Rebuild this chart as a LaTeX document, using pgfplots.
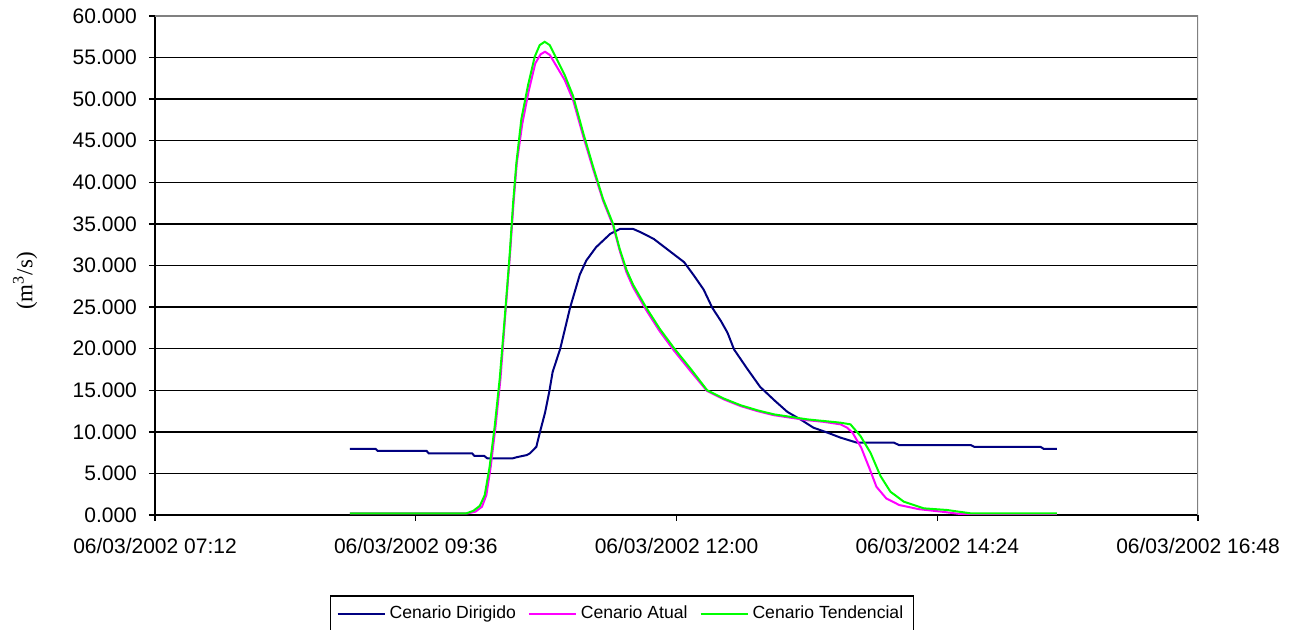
\documentclass[border=0pt]{standalone}
\usepackage{fontspec}
\setmainfont{Liberation Sans}
\newfontfamily\seriffont{Liberation Serif}
\usepackage{pgfplots}
\pgfplotsset{compat=1.18}
\definecolor{cdir}{RGB}{0,0,128}
\definecolor{catu}{RGB}{255,0,255}
\definecolor{cten}{RGB}{0,255,0}
\begin{document}
\begin{tikzpicture}
\path[use as bounding box] (0,0) rectangle (649pt,315pt);
\begin{axis}[
  scale only axis, width=521.5pt, height=249.5pt,
  at={(77.5pt,57.5pt)}, anchor=south west,
  xmin=0, xmax=9.6, ymin=0, ymax=60,
  xtick={0,2.4,4.8,7.2,9.6},
  xticklabels={06/03/2002 07:12,06/03/2002 09:36,06/03/2002 12:00,06/03/2002 14:24,06/03/2002 16:48},
  ytick={0,5,10,15,20,25,30,35,40,45,50,55,60},
  yticklabel style={xshift=-2.5pt, /pgf/number format/.cd, fixed, fixed zerofill, precision=3, assume math mode=true},
  tick align=outside, major tick length=3pt,
  axis x line*=bottom, axis y line*=left,
  ymajorgrids, grid style={black, line width=0.7pt},
  axis line style={black, line width=0.7pt},
  tick style={black, line width=0.7pt},
  tick label style={font=\fontsize{10.5}{12}\selectfont},
  xticklabel style={yshift=-5pt},
  ylabel={\seriffont\fontsize{11.5}{13}\selectfont (m\textsuperscript{3}/s)},
  ylabel style={at={(axis description cs:-0.1246,0.469)}, anchor=center},
  legend columns=3,
  legend style={at={(axis description cs:0.4477,-0.198)}, anchor=center,
    draw=black, line width=0.6pt, font=\fontsize{8.8}{10}\selectfont,
    inner xsep=3pt, inner ysep=3pt,
    /tikz/every even column/.append style={column sep=4pt}},
  legend image code/.code={\draw[#1, line width=1pt] (0pt,0pt) -- (23.5pt,0pt);},
  every axis plot/.append style={line width=1pt},
]
\addplot[cdir, mark=none] coordinates {
(1.793,7.95) (2.03,7.95) (2.05,7.7) (2.50,7.7) (2.52,7.4) (2.92,7.4) (2.94,7.1) (3.03,7.1) (3.06,6.8) (3.29,6.8) (3.33,6.95) (3.42,7.2) (3.45,7.4) (3.51,8.2) (3.54,9.8) (3.59,12.3) (3.63,14.9) (3.66,17.2) (3.73,20.0) (3.82,24.9) (3.91,28.9) (3.97,30.6) (4.06,32.2) (4.19,33.8) (4.28,34.4) (4.40,34.4) (4.47,34.0) (4.59,33.2) (4.75,31.6) (4.87,30.4) (4.96,28.8) (5.05,27.1) (5.13,24.9) (5.21,23.3) (5.27,21.9) (5.33,19.9) (5.45,17.6) (5.57,15.4) (5.70,13.8) (5.82,12.4) (5.94,11.5) (6.06,10.5) (6.19,9.9) (6.31,9.3) (6.46,8.7) (6.80,8.7) (6.85,8.4) (7.51,8.4) (7.54,8.2) (8.15,8.2) (8.18,7.95) (8.30,7.95)
};
\addlegendentry{Cenario Dirigido}
\addplot[catu, mark=none] coordinates {
(1.793,0.2) (2.88,0.2) (2.95,0.4) (3.01,1.0) (3.05,2.4) (3.09,5.8) (3.135,10.7) (3.18,16.4) (3.222,23.7) (3.268,31.4) (3.30,37.5) (3.33,42.3) (3.38,47.0) (3.44,51.0) (3.50,54.3) (3.55,55.4) (3.59,55.7) (3.635,55.3) (3.694,54.0) (3.771,52.3) (3.848,49.9) (3.94,45.6) (4.032,41.6) (4.124,37.8) (4.216,34.8) (4.277,31.8) (4.339,29.2) (4.40,27.4) (4.523,24.6) (4.645,22.1) (4.775,19.8) (4.929,17.3) (5.082,14.9) (5.236,13.9) (5.389,13.1) (5.542,12.5) (5.696,12.0) (5.849,11.7) (6.002,11.4) (6.156,11.2) (6.309,10.9) (6.37,10.5) (6.42,9.9) (6.50,8.1) (6.585,5.3) (6.64,3.4) (6.73,2.0) (6.85,1.2) (7.03,0.7) (7.24,0.4) (7.42,0.1) (8.30,0.1)
};
\addlegendentry{Cenario Atual}
\addplot[cten, mark=none] coordinates {
(1.793,0.2) (2.866,0.2) (2.93,0.5) (2.99,1.1) (3.035,2.4) (3.08,5.8) (3.127,10.7) (3.173,16.4) (3.219,23.7) (3.265,31.4) (3.296,37.5) (3.326,42.3) (3.372,47.6) (3.434,51.7) (3.495,55.1) (3.541,56.5) (3.587,56.9) (3.633,56.5) (3.694,54.9) (3.771,52.9) (3.848,50.4) (3.94,46.0) (4.032,41.9) (4.124,38.0) (4.216,35.0) (4.277,32.0) (4.339,29.5) (4.40,27.7) (4.523,24.9) (4.645,22.4) (4.775,20.1) (4.929,17.6) (5.082,15.0) (5.236,14.0) (5.389,13.2) (5.542,12.6) (5.696,12.1) (5.849,11.8) (6.002,11.5) (6.156,11.3) (6.309,11.1) (6.401,10.9) (6.493,9.5) (6.585,7.5) (6.677,4.7) (6.769,2.8) (6.892,1.6) (7.076,0.8) (7.291,0.6) (7.506,0.2) (8.30,0.2)
};
\addlegendentry{Cenario Tendencial}
\draw[gray, line width=1pt] (rel axis cs:0,1) -- (rel axis cs:1,1) -- (rel axis cs:1,0);
\end{axis}
\end{tikzpicture}
\end{document}
